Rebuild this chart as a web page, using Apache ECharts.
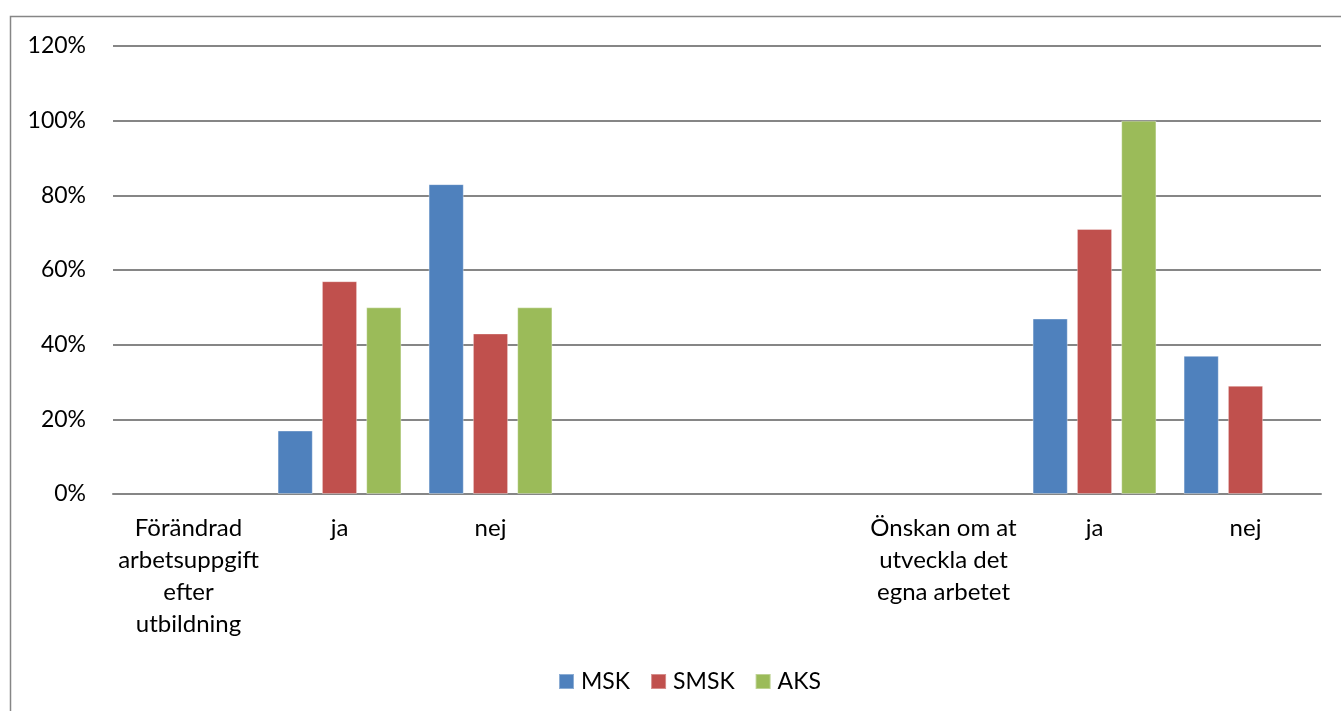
<!DOCTYPE html>
<html>
<head>
<meta charset="utf-8">
<script src="https://cdn.jsdelivr.net/npm/echarts@6/dist/echarts.min.js"></script>
<style>
  html, body { margin: 0; padding: 0; background: #fff; }
  #chart { width: 1341px; height: 711px; }
</style>
</head>
<body>
<div id="chart"></div>
<script>
// Categories along the x axis (two question blocks with answers, blank spacers between)
const categories = [
  'Förändrad\narbetsuppgift\nefter\nutbildning',
  'ja',
  'nej',
  '',
  '',
  'Önskan om at\nutveckla det\negna arbetet',
  'ja',
  'nej'
];

// Share of respondents per group, in percent
const msk  = [null, 17, 83, null, null, null, 47, 37];
const smsk = [null, 57, 43, null, null, null, 71, 29];
const aks  = [null, 50, 50, null, null, null, 100, null];

const seriesNames = ['MSK', 'SMSK', 'AKS'];
const colors = ['#4F81BD', '#C0504D', '#9BBB59'];

const font = 'Lato, "Open Sans", sans-serif';
const chart = echarts.init(document.getElementById('chart'), null, { renderer: 'canvas' });

const mkSeries = (name, data, color) => ({
  name,
  type: 'bar',
  data,
  barGap: '26%',
  barCategoryGap: '18%',
  itemStyle: { color, borderColor: 'rgba(255,255,255,0.35)', borderWidth: 1 },
  animation: false
});

chart.setOption({
  animation: false,
  backgroundColor: '#fff',
  textStyle: { fontFamily: font },
  graphic: [{
    type: 'rect',
    shape: { x: 10.5, y: 16.5, width: 1400, height: 800 },
    style: { fill: 'none', stroke: '#868686', lineWidth: 1.5 },
    silent: true,
    z: -1
  }],
  grid: { left: 113, right: 20, top: 46, bottom: 217, containLabel: false },
  legend: {
    bottom: 13,
    left: 553,
    itemWidth: 15,
    itemHeight: 15,
    itemGap: 20,
    icon: 'rect',
    textStyle: { fontFamily: font, fontSize: 23, color: '#000', padding: [0, 0, 0, 2] },
    data: seriesNames
  },
  xAxis: {
    type: 'category',
    data: categories,
    axisTick: { show: false },
    axisLine: { lineStyle: { color: '#868686', width: 2 } },
    axisLabel: {
      interval: 0,
      margin: 18,
      color: '#000',
      fontFamily: font,
      fontSize: 24,
      lineHeight: 32,
      align: 'center'
    }
  },
  yAxis: {
    type: 'value',
    min: 0,
    max: 120,
    interval: 20,
    axisLine: { show: false },
    axisTick: { show: false },
    splitLine: { lineStyle: { color: '#868686', width: 2 } },
    axisLabel: {
      formatter: v => v + '%',
      color: '#000',
      fontFamily: font,
      fontSize: 23,
      margin: 27
    }
  },
  series: [
    mkSeries(seriesNames[0], msk, colors[0]),
    mkSeries(seriesNames[1], smsk, colors[1]),
    mkSeries(seriesNames[2], aks, colors[2])
  ]
});
</script>
</body>
</html>
